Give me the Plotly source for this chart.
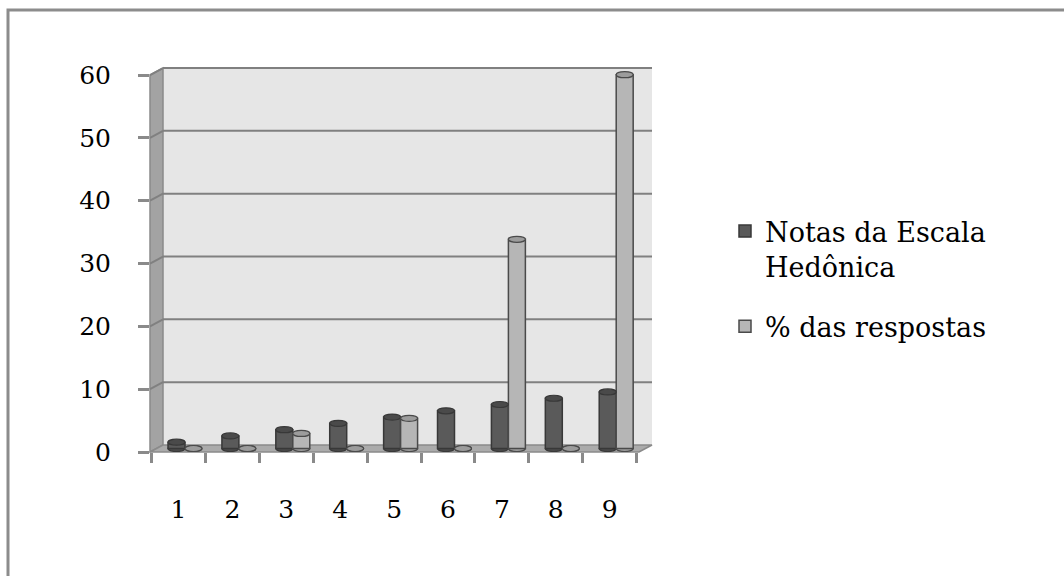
import plotly.graph_objects as go

# Data: hedonic scale scores and share of answers (%)
categorias = [1, 2, 3, 4, 5, 6, 7, 8, 9]
notas_escala = [1, 2, 3, 4, 5, 6, 7, 8, 9]
pct_respostas = [0, 0, 2.4, 0, 4.8, 0, 33.3, 0, 59.5]
y_ticks = [0, 10, 20, 30, 40, 50, 60]

FONT = "DejaVu Serif"
W_FIG, H_FIG = 1064, 576

# plot-area frame in pixels
L, R, T, B = 150, 652, 60, 452
PW, PH = R - L, B - T

# pseudo-3D geometry
CAT1_PX = 185.0        # centre of first category (bar depth plane)
PX_PER_CAT = 53.9
ZERO_PX = 448.5        # baseline of the bars
PX_PER_UNIT = 6.283
DX, DY = 6.5, 3.5      # half-depth offsets (front plane / back wall)
BAR_W = 0.315


def xp(p):
    return (p - L) / PW


def yp(p):
    return (B - p) / PH


x_range = [1 + (L - CAT1_PX) / PX_PER_CAT, 1 + (R - CAT1_PX) / PX_PER_CAT]
y_range = [(ZERO_PX - B) / PX_PER_UNIT, (ZERO_PX - T) / PX_PER_UNIT]
dxu = DX / PX_PER_CAT
dyu = DY / PX_PER_UNIT

DARK, DARK_EDGE, DARK_TOP = "#5a5a5a", "#383838", "#4a4a4a"
LIGHT, LIGHT_EDGE, LIGHT_TOP = "#b6b6b6", "#4a4a4a", "#9c9c9c"

fig = go.Figure()
fig.add_trace(go.Bar(
    x=categorias, y=notas_escala, name="Notas da Escala<br>Hedônica",
    legendgroup="notas",
    width=BAR_W, offset=-BAR_W,
    marker=dict(color=DARK, line=dict(color=DARK_EDGE, width=1.5)),
))
fig.add_trace(go.Bar(
    x=categorias, y=pct_respostas, name="% das respostas",
    legendgroup="pct",
    width=BAR_W, offset=0,
    marker=dict(color=LIGHT, line=dict(color=LIGHT_EDGE, width=1.5)),
))
# carrier for the front axes
fig.add_trace(go.Scatter(
    x=[1], y=[0], xaxis="x2", yaxis="y2", mode="markers",
    marker=dict(opacity=0), showlegend=False, hoverinfo="skip",
))

shapes = []
# outer chart frame
shapes.append(dict(type="rect", xref="paper", yref="paper",
                   x0=xp(8), x1=xp(1100), y0=yp(10), y1=yp(640),
                   line=dict(color="#8c8c8c", width=3), fillcolor="rgba(0,0,0,0)",
                   layer="below"))
# back wall
shapes.append(dict(type="rect", xref="paper", yref="y",
                   x0=xp(L + 2 * DX), x1=xp(R), y0=0 + dyu, y1=60 + dyu,
                   line=dict(width=0), fillcolor="#e6e6e6", layer="below"))
# side wall
shapes.append(dict(type="path", xref="paper", yref="paper",
                   path=f"M{xp(L)},{yp(B)} L{xp(L)},{yp(B - 60 * PX_PER_UNIT)} "
                        f"L{xp(L + 2 * DX)},{yp(B - 60 * PX_PER_UNIT - 2 * DY)} "
                        f"L{xp(L + 2 * DX)},{yp(B - 2 * DY)} Z",
                   fillcolor="#a3a3a3", line=dict(color="#8a8a8a", width=1.5),
                   layer="below"))
# floor
shapes.append(dict(type="path", xref="paper", yref="paper",
                   path=f"M{xp(L)},{yp(B)} L{xp(L + 2 * DX)},{yp(B - 2 * DY)} "
                        f"L{xp(R)},{yp(B - 2 * DY)} L{xp(R - 2 * DX)},{yp(B)} Z",
                   fillcolor="#ababab", line=dict(color="#8a8a8a", width=1.5),
                   layer="below"))
# gridlines on back wall + diagonal across side wall
for v in y_ticks[1:]:
    shapes.append(dict(type="line", xref="paper", yref="y",
                       x0=xp(L + 2 * DX), x1=xp(R), y0=v + dyu, y1=v + dyu,
                       line=dict(color="#808080", width=2), layer="below"))
    shapes.append(dict(type="line", xref="paper", yref="y",
                       x0=xp(L), x1=xp(L + 2 * DX), y0=v - dyu, y1=v + dyu,
                       line=dict(color="#808080", width=2), layer="below"))

# cylinder caps and rounded bottoms, placed from the bar values
e = 3.0 / PX_PER_UNIT
for vals, off, top, edge in ((notas_escala, -BAR_W / 2, DARK_TOP, DARK_EDGE),
                             (pct_respostas, BAR_W / 2, LIGHT_TOP, LIGHT_EDGE)):
    for c, v in zip(categorias, vals):
        xc = c + off
        shapes.append(dict(type="circle", xref="x", yref="y",
                           x0=xc - BAR_W / 2, x1=xc + BAR_W / 2, y0=-e, y1=e,
                           fillcolor=top, line=dict(color=edge, width=1.2),
                           layer="below"))
        shapes.append(dict(type="circle", xref="x", yref="y",
                           x0=xc - BAR_W / 2, x1=xc + BAR_W / 2, y0=v - e, y1=v + e,
                           fillcolor=top, line=dict(color=edge, width=1.2),
                           layer="above"))

fig.update_layout(
    width=W_FIG, height=H_FIG, autosize=False,
    margin=dict(l=L, r=W_FIG - R, t=T, b=H_FIG - B, pad=0),
    paper_bgcolor="white", plot_bgcolor="rgba(0,0,0,0)",
    font=dict(family=FONT, color="black", size=25),
    barmode="overlay",
    shapes=shapes,
    showlegend=True,
    legend=dict(x=xp(725), y=yp(207), xref="paper", yref="paper",
                xanchor="left", yanchor="top", valign="top",
                font=dict(family=FONT, size=27, color="black"),
                bgcolor="rgba(0,0,0,0)", tracegroupgap=22, traceorder="grouped"),
    xaxis=dict(range=x_range, showgrid=False, zeroline=False, showline=False,
               showticklabels=False, ticks=""),
    yaxis=dict(range=y_range, showgrid=False, zeroline=False, showline=False,
               showticklabels=False, ticks=""),
    xaxis2=dict(overlaying="x", anchor="y2",
                range=[x_range[0] + dxu, x_range[1] + dxu],
                tickmode="array", tickvals=categorias,
                ticktext=[str(c) for c in categorias],
                ticks="", showgrid=False, zeroline=False,
                showline=False, ticklabelstandoff=40,
                tickfont=dict(family=FONT, size=25, color="black"),
                minor=dict(tickmode="array",
                           tickvals=[c - 0.5 for c in categorias] + [categorias[-1] + 0.5],
                           ticks="outside", ticklen=10, tickwidth=2.5,
                           tickcolor="#8a8a8a", showgrid=False)),
    yaxis2=dict(overlaying="y", anchor="x2",
                range=[y_range[0] + dyu, y_range[1] + dyu],
                tickmode="array", tickvals=y_ticks,
                ticks="outside", ticklen=11, tickwidth=2.5, tickcolor="#8a8a8a",
                showgrid=False, zeroline=False, showline=False,
                ticklabelstandoff=22,
                tickfont=dict(family=FONT, size=25, color="black")),
)

fig.write_html("out.html")
